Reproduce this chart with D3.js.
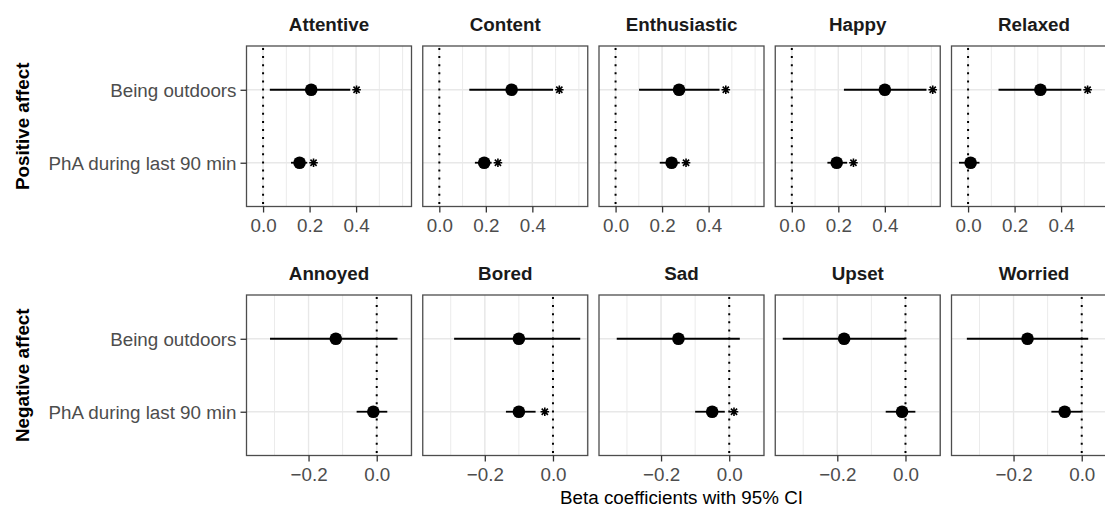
<!DOCTYPE html>
<html>
<head>
<meta charset="utf-8">
<script src="https://cdn.jsdelivr.net/npm/d3@7"></script>
<style>
  body { margin: 0; background: #fff; }
  svg { display: block; font-family: "Liberation Sans", Arial, Helvetica, sans-serif; }
</style>
</head>
<body>
<svg id="chart" width="1105" height="508"></svg>
<script>
/* data */
const affects = ['Attentive', 'Content', 'Enthusiastic', 'Happy', 'Relaxed',
                 'Annoyed', 'Bored', 'Sad', 'Upset', 'Worried'];
const rowNames = ['Positive affect', 'Negative affect'];
const predictors = ['Being outdoors', 'PhA during last 90 min'];

// Being outdoors
const outEst  = [0.207, 0.311, 0.273, 0.400, 0.311, -0.120, -0.100, -0.149, -0.180, -0.159];
const outLow  = [0.029, 0.129, 0.101, 0.224, 0.131, -0.313, -0.290, -0.330, -0.360, -0.337];
const outHigh = [0.375, 0.489, 0.447, 0.579, 0.487,  0.061,  0.080,  0.031, -0.001,  0.019];
const outSig  = [true, true, true, true, true, false, false, false, false, false];

// PhA during last 90 min
const phaEst  = [0.157, 0.193, 0.241, 0.193, 0.011, -0.010, -0.100, -0.050, -0.010, -0.050];
const phaLow  = [0.120, 0.153, 0.190, 0.153, -0.039, -0.059, -0.138, -0.100, -0.058, -0.089];
const phaHigh = [0.190, 0.225, 0.276, 0.238, 0.049,  0.031, -0.051, -0.013,  0.029, -0.002];
const phaSig  = [true, true, true, true, false, false, true, true, false, false];

const rowTicks = [[0, 0.2, 0.4], [-0.2, 0]];
const xTitle = 'Beta coefficients with 95% CI';

/* layout */
const panelW = 165, panelStep = 176.25, left0 = 246.5;
const rowTop = [46, 295], panelH = 160.5;
const starOffset = 0.027;
const fs = 18.8;

const svg = d3.select('#chart');

let rows = affects.map((a, i) => ({
  affect: a,
  row: i < 5 ? 0 : 1,
  col: i % 5,
  items: [
    { pred: predictors[0], est: outEst[i], low: outLow[i], high: outHigh[i], sig: outSig[i] },
    { pred: predictors[1], est: phaEst[i], low: phaLow[i], high: phaHigh[i], sig: phaSig[i] }
  ]
}));

// x scale per facet row, ggplot style 5% expansion
let xScales = [0, 1].map(r => {
  let vals = [];
  rows.filter(d => d.row === r).forEach(d => d.items.forEach(e => {
    vals.push(e.low, e.high);
    if (e.sig) vals.push(e.high + starOffset);
  }));
  let mn = d3.min(vals), mx = d3.max(vals);
  let pad = (mx - mn) * 0.05;
  return d3.scaleLinear().domain([mn - pad, mx + pad]).range([0, panelW]);
});

let y = d3.scalePoint().domain(predictors).range([0, panelH]).padding(0.6);
let fmt = d3.format('.1f');

rows.forEach(d => {
  let x = xScales[d.row];
  let g = svg.append('g')
    .attr('transform', `translate(${left0 + d.col * panelStep},${rowTop[d.row]})`);

  // minor grid
  let dom = x.domain();
  let minor = d3.range(Math.ceil(dom[0] * 10 - 1e-9), Math.floor(dom[1] * 10 + 1e-9) + 1).map(v => v / 10);
  g.selectAll('.minor').data(minor).enter().append('line')
    .attr('x1', v => x(v)).attr('x2', v => x(v))
    .attr('y1', 0).attr('y2', panelH)
    .attr('stroke', '#ebebeb').attr('stroke-width', 1);

  // major grid
  g.selectAll('.majorx').data(rowTicks[d.row]).enter().append('line')
    .attr('x1', v => x(v)).attr('x2', v => x(v))
    .attr('y1', 0).attr('y2', panelH)
    .attr('stroke', '#e8e8e8').attr('stroke-width', 1.4);
  g.selectAll('.majory').data(predictors).enter().append('line')
    .attr('x1', 0).attr('x2', panelW)
    .attr('y1', p => y(p)).attr('y2', p => y(p))
    .attr('stroke', '#e8e8e8').attr('stroke-width', 1.4);

  // zero reference
  g.append('line')
    .attr('x1', x(0)).attr('x2', x(0))
    .attr('y1', 2).attr('y2', panelH)
    .attr('stroke', '#000').attr('stroke-width', 2)
    .attr('stroke-dasharray', '2 6.1');

  // CIs
  g.selectAll('.ci').data(d.items).enter().append('line')
    .attr('x1', e => x(e.low)).attr('x2', e => x(e.high))
    .attr('y1', e => y(e.pred)).attr('y2', e => y(e.pred))
    .attr('stroke', '#000').attr('stroke-width', 1.8);

  g.selectAll('.pt').data(d.items).enter().append('circle')
    .attr('cx', e => x(e.est)).attr('cy', e => y(e.pred))
    .attr('r', 6.3).attr('fill', '#000');

  // significance asterisks (shape 8)
  g.selectAll('.star').data(d.items.filter(e => e.sig)).enter().append('path')
    .attr('d', e => {
      let cx = x(e.high + starOffset), cy = y(e.pred), s = 4.3, q = s * 0.72;
      return `M${cx - s},${cy}H${cx + s}M${cx},${cy - s}V${cy + s}` +
        `M${cx - q},${cy - q}L${cx + q},${cy + q}M${cx - q},${cy + q}L${cx + q},${cy - q}`;
    })
    .attr('stroke', '#000').attr('stroke-width', 1.6).attr('fill', 'none');

  // border
  g.append('rect').attr('width', panelW).attr('height', panelH)
    .attr('fill', 'none').attr('stroke', '#4d4d4d').attr('stroke-width', 1.3);

  // x axis
  let xa = g.append('g').attr('transform', `translate(0,${panelH})`)
    .call(d3.axisBottom(x).tickValues(rowTicks[d.row]).tickFormat(fmt).tickSize(6).tickPadding(4));
  xa.select('.domain').remove();
  xa.selectAll('line').attr('stroke', '#333').attr('stroke-width', 1.3);
  xa.selectAll('text').attr('font-size', fs).attr('fill', '#4d4d4d')
    .attr('font-family', 'Liberation Sans, Arial, sans-serif')
    .attr('dy', null).attr('y', 25);

  // strip title
  g.append('text').attr('x', panelW / 2).attr('y', -15.5)
    .attr('text-anchor', 'middle').attr('font-size', fs).attr('font-weight', 'bold')
    .attr('fill', '#1a1a1a').text(d.affect);

  // y axis on first column
  if (d.col === 0) {
    let ya = g.append('g')
      .call(d3.axisLeft(y).tickSize(6).tickPadding(4));
    ya.select('.domain').remove();
    ya.selectAll('line').attr('stroke', '#333').attr('stroke-width', 1.3);
    ya.selectAll('text').attr('font-size', fs).attr('fill', '#4d4d4d')
      .attr('font-family', 'Liberation Sans, Arial, sans-serif')
      .attr('dy', null).attr('y', 7);

    g.append('text')
      .attr('transform', `translate(${28.5 - left0},${panelH / 2}) rotate(-90)`)
      .attr('text-anchor', 'middle').attr('font-size', fs).attr('font-weight', 'bold')
      .attr('fill', '#000').text(rowNames[d.row]);
  }
});

svg.append('text')
  .attr('x', left0 + (4 * panelStep + panelW) / 2).attr('y', 504)
  .attr('text-anchor', 'middle').attr('font-size', fs).attr('fill', '#000')
  .text(xTitle);
</script>
</body>
</html>
